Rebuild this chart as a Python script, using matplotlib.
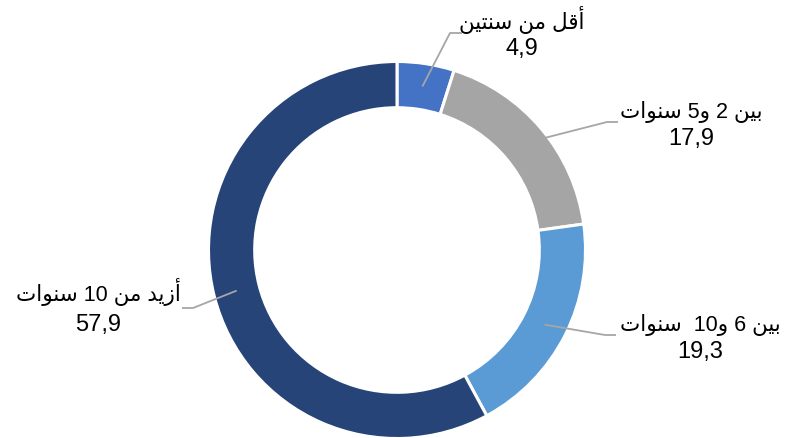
import re
import matplotlib
matplotlib.use("Agg")
import matplotlib.pyplot as plt
import numpy as np

# ---------------- data ----------------
categories = ["أقل من سنتين", "بين 2 و5 سنوات", "بين 6 و10  سنوات", "أزيد من 10 سنوات"]
values = [4.9, 17.9, 19.3, 57.9]
colors = ["#4472C4", "#A5A5A5", "#5B9BD5", "#264478"]

# ---------------- layout (pixels, y measured from top) ----------------
W, H = 796, 438
center_px = (397, 250)
radius_px = 188.5
ring_width = 0.245
# label x centre, name baseline, value baseline
label_x = [522, 691, 700, 98]
name_base = [28.5, 118, 331.5, 301.5]
value_base = [55.5, 145, 358, 331]
# elbow of leader line, end of leader line
elbow_pos = [(450, 33), (607, 122), (605, 335), (193, 308)]
end_pos = [(462, 33), (618, 122), (616, 335), (182, 308)]

# ---------------- minimal Arabic shaping + RTL ordering ----------------
FORMS = {
    "ا": ("\uFE8D", "\uFE8E"), "أ": ("\uFE83", "\uFE84"),
    "د": ("\uFEA9", "\uFEAA"), "ز": ("\uFEAF", "\uFEB0"),
    "و": ("\uFEED", "\uFEEE"),
    "ب": ("\uFE8F", "\uFE90", "\uFE91", "\uFE92"),
    "ت": ("\uFE95", "\uFE96", "\uFE97", "\uFE98"),
    "س": ("\uFEB1", "\uFEB2", "\uFEB3", "\uFEB4"),
    "ق": ("\uFED5", "\uFED6", "\uFED7", "\uFED8"),
    "ل": ("\uFEDD", "\uFEDE", "\uFEDF", "\uFEE0"),
    "م": ("\uFEE1", "\uFEE2", "\uFEE3", "\uFEE4"),
    "ن": ("\uFEE5", "\uFEE6", "\uFEE7", "\uFEE8"),
    "ي": ("\uFEF1", "\uFEF2", "\uFEF3", "\uFEF4"),
}


def shape_rtl(s):
    out = []
    n = len(s)
    for i, ch in enumerate(s):
        if ch not in FORMS:
            out.append(ch)
            continue
        f = FORMS[ch]
        prev = s[i - 1] if i > 0 else ""
        nxt = s[i + 1] if i + 1 < n else ""
        jp = prev in FORMS and len(FORMS[prev]) == 4
        jn = len(f) == 4 and nxt in FORMS
        if jp and jn:
            out.append(f[3])
        elif jn:
            out.append(f[2])
        elif jp:
            out.append(f[1])
        else:
            out.append(f[0])
    vis = "".join(out)[::-1]
    vis = re.sub(r"[0-9][0-9,\.]*", lambda m: m.group(0)[::-1], vis)
    return vis


# ---------------- figure ----------------
fig = plt.figure(figsize=(W / 100, H / 100), dpi=100)
ax = fig.add_axes([0, 0, 1, 1])


def P(x, y):
    return x, H - y


cx, cy = P(*center_px)
wedges, _ = ax.pie(values, colors=colors, startangle=90, counterclock=False,
                   radius=radius_px, center=(cx, cy),
                   wedgeprops=dict(width=radius_px * ring_width, edgecolor="white",
                                   linewidth=2.2))
ax.set_xlim(0, W)
ax.set_ylim(0, H)
ax.set_aspect("equal")
ax.axis("off")

font = ["Liberation Sans", "DejaVu Sans"]
r_mid = radius_px * (1 - ring_width / 2)
for w, name, val, lx, nb, vb, ep, en in zip(wedges, categories, values, label_x,
                                           name_base, value_base, elbow_pos, end_pos):
    ang = np.deg2rad((w.theta1 + w.theta2) / 2)
    sx, sy = cx + r_mid * np.cos(ang), cy + r_mid * np.sin(ang)
    ex, ey = P(*ep)
    nx, ny = P(*en)
    ax.plot([sx, ex, nx], [sy, ey, ny], color="#A6A6A6", lw=1.3,
            solid_capstyle="butt", zorder=5)
    ax.text(*P(lx, nb), shape_rtl(name), ha="center", va="baseline",
            fontsize=15.5, family=font, color="#000000")
    ax.text(*P(lx, vb), f"{val:.1f}".replace(".", ","), ha="center", va="baseline",
            fontsize=17, family=font, color="#000000")

fig.savefig("out.png", dpi=100, facecolor="white")
